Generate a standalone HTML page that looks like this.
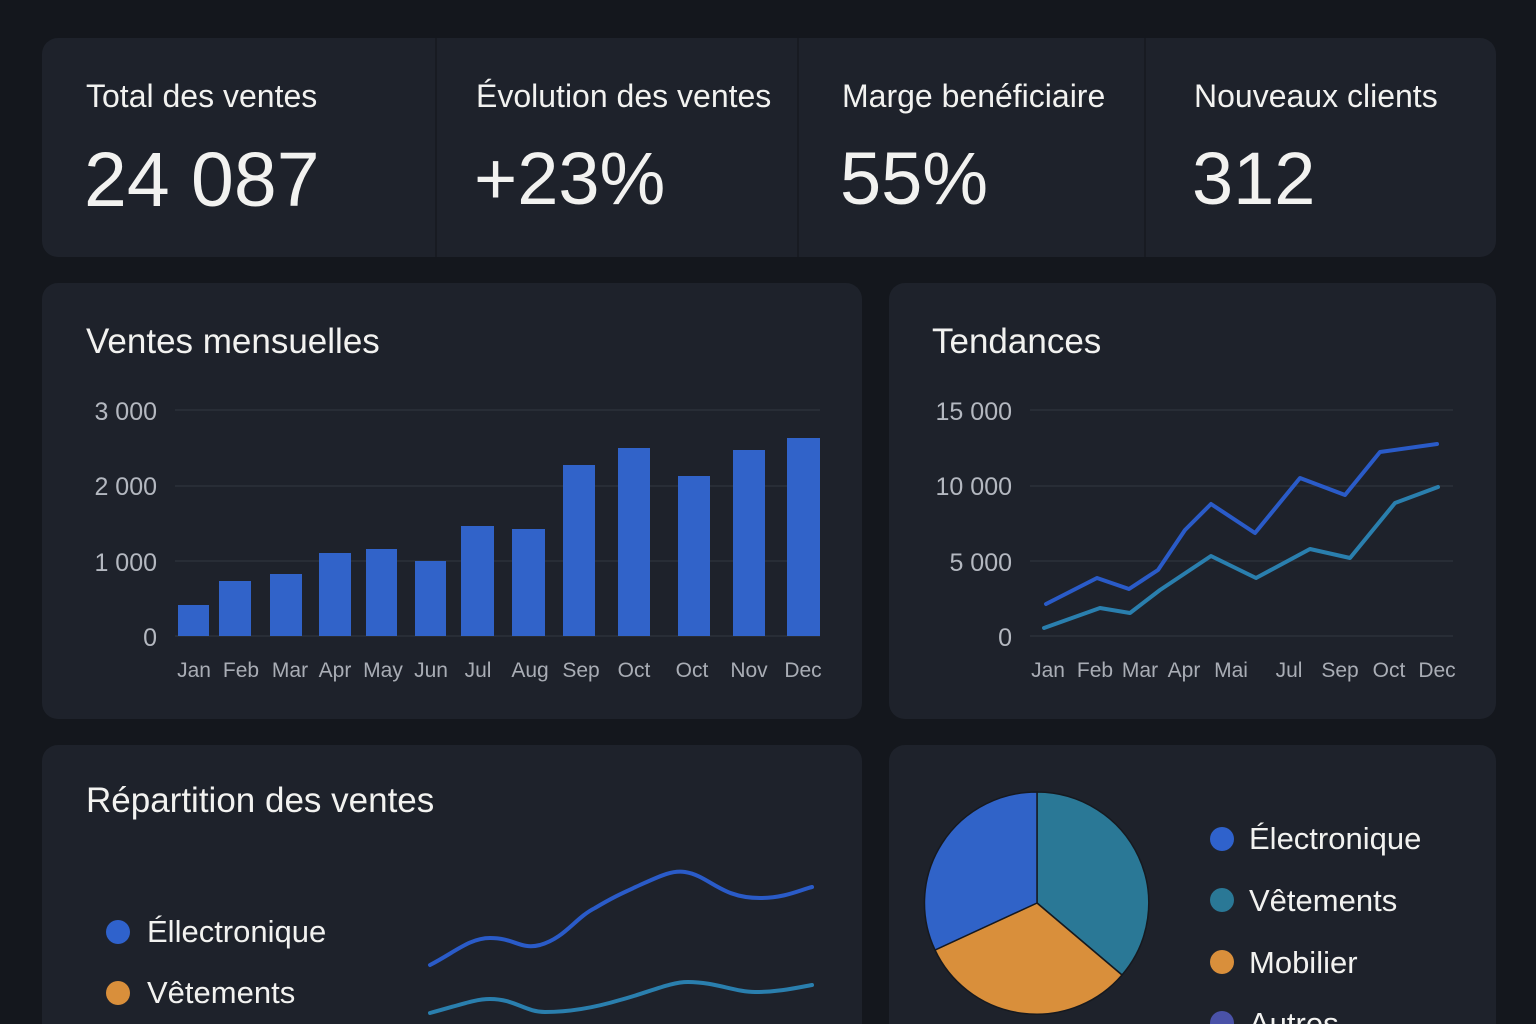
<!DOCTYPE html><html><head><meta charset="utf-8"><style>
html,body{margin:0;width:1536px;height:1024px;overflow:hidden}
body{background:#14171d;font-family:"Liberation Sans",sans-serif;color:#f2f2f0;position:relative}
.c{position:absolute;background:#1e222b;border-radius:16px}
.t{position:absolute;white-space:nowrap}
</style></head><body>
<div class="c" style="left:42px;top:38px;width:1454px;height:219px"></div>
<div style="position:absolute;left:435px;top:38px;width:2px;height:219px;background:#181b22"></div>
<div style="position:absolute;left:797px;top:38px;width:2px;height:219px;background:#181b22"></div>
<div style="position:absolute;left:1144px;top:38px;width:2px;height:219px;background:#181b22"></div>
<div class="t" style="left:86px;top:78px;font-size:32px">Total des ventes</div>
<div class="t" style="left:476px;top:78px;font-size:32px">Évolution des ventes</div>
<div class="t" style="left:842px;top:78px;font-size:32px">Marge benéficiaire</div>
<div class="t" style="left:1194px;top:78px;font-size:32px">Nouveaux clients</div>
<div class="t" style="left:84px;top:136px;font-size:77px">24 087</div>
<div class="t" style="left:474px;top:136px;font-size:74px">+23%</div>
<div class="t" style="left:840px;top:136px;font-size:74px">55%</div>
<div class="t" style="left:1192px;top:136px;font-size:74px">312</div>
<div class="c" style="left:42px;top:283px;width:820px;height:436px"></div>
<div class="c" style="left:889px;top:283px;width:607px;height:436px"></div>
<div class="c" style="left:42px;top:745px;width:820px;height:300px"></div>
<div class="c" style="left:889px;top:745px;width:607px;height:300px"></div>
<div class="t" style="left:86px;top:322px;font-size:35px">Ventes mensuelles</div>
<div class="t" style="left:932px;top:322px;font-size:35px">Tendances</div>
<div class="t" style="left:86px;top:781px;font-size:35px">Répartition des ventes</div>
<svg width="1536" height="1024" style="position:absolute;left:0;top:0" font-family="Liberation Sans,sans-serif">
<g stroke="#2c313b" stroke-width="1.5"><line x1="175" y1="410" x2="820" y2="410"/><line x1="175" y1="486" x2="820" y2="486"/><line x1="175" y1="561" x2="820" y2="561"/><line x1="175" y1="636" x2="820" y2="636"/>
<line x1="1030" y1="410" x2="1453" y2="410"/><line x1="1030" y1="486" x2="1453" y2="486"/><line x1="1030" y1="561" x2="1453" y2="561"/><line x1="1030" y1="636" x2="1453" y2="636"/></g>
<g fill="#b4b8c0" font-size="25" text-anchor="end"><text x="157" y="420">3 000</text><text x="157" y="495">2 000</text><text x="157" y="571">1 000</text><text x="157" y="646">0</text>
<text x="1012" y="420">15 000</text><text x="1012" y="495">10 000</text><text x="1012" y="571">5 000</text><text x="1012" y="646">0</text></g>
<g fill="#3163c9"><rect x="178" y="605" width="31" height="31"/><rect x="219" y="581" width="32" height="55"/><rect x="270" y="574" width="32" height="62"/><rect x="319" y="553" width="32" height="83"/><rect x="366" y="549" width="31" height="87"/><rect x="415" y="561" width="31" height="75"/><rect x="461" y="526" width="33" height="110"/><rect x="512" y="529" width="33" height="107"/><rect x="563" y="465" width="32" height="171"/><rect x="618" y="448" width="32" height="188"/><rect x="678" y="476" width="32" height="160"/><rect x="733" y="450" width="32" height="186"/><rect x="787" y="438" width="33" height="198"/></g>
<g fill="#a9adb5" font-size="21" text-anchor="middle"><text x="194" y="677">Jan</text><text x="241" y="677">Feb</text><text x="290" y="677">Mar</text><text x="335" y="677">Apr</text><text x="383" y="677">May</text><text x="431" y="677">Jun</text><text x="478" y="677">Jul</text><text x="530" y="677">Aug</text><text x="581" y="677">Sep</text><text x="634" y="677">Oct</text><text x="692" y="677">Oct</text><text x="749" y="677">Nov</text><text x="803" y="677">Dec</text>
<text x="1048" y="677">Jan</text><text x="1095" y="677">Feb</text><text x="1140" y="677">Mar</text><text x="1184" y="677">Apr</text><text x="1231" y="677">Mai</text><text x="1289" y="677">Jul</text><text x="1340" y="677">Sep</text><text x="1389" y="677">Oct</text><text x="1437" y="677">Dec</text></g>
<g fill="none" stroke-width="4" stroke-linejoin="round" stroke-linecap="round">
<polyline stroke="#2a5bc8" points="1046,604 1097,578 1129,589 1158,570 1185,530 1211,504 1255,533 1300,478 1345,495 1380,452 1437,444"/>
<polyline stroke="#2a7fae" points="1044,628 1100,608 1130,613 1160,590 1211,556 1256,578 1310,549 1350,558 1395,503 1438,487"/>
<path stroke="#2a5bc8" d="M430,965 C455,952 470,938 490,938 C515,938 520,950 540,945 C565,938 575,918 595,908 C615,896 625,892 640,885 C660,876 672,870 685,872 C710,876 720,898 760,898 C785,898 800,890 812,887"/>
<path stroke="#2a7fae" d="M430,1013 C460,1005 475,999 490,999 C515,999 525,1012 545,1012 C575,1012 600,1006 620,1000 C650,992 670,982 688,982 C715,982 735,992 755,992 C780,992 800,987 812,985"/>
</g>
<circle cx="118" cy="932" r="12" fill="#2f62cc"/><circle cx="118" cy="993" r="12" fill="#d98f3b"/>
<g font-size="31" fill="#f2f2f0"><text x="147" y="942">Éllectronique</text><text x="147" y="1003">Vêtements</text>
<text x="1249" y="849">Électronique</text><text x="1249" y="911">Vêtements</text><text x="1249" y="973">Mobilier</text><text x="1249" y="1034">Autres</text></g>
<circle cx="1222" cy="839" r="12" fill="#2f62cc"/><circle cx="1222" cy="900" r="12" fill="#2a7896"/><circle cx="1222" cy="962" r="12" fill="#d98f3b"/><circle cx="1222" cy="1023" r="12" fill="#4a52a8"/>
<g stroke="#16191f" stroke-width="1.5">
<path d="M1037,903 L1037,792 A112,111 0 0 1 1122,975 Z" fill="#2a7896"/>
<path d="M1037,903 L1122,975 A112,111 0 0 1 935,950 Z" fill="#d98f3b"/>
<path d="M1037,903 L935,950 A112,111 0 0 1 1037,792 Z" fill="#3063c8"/>
</g>
</svg>
</body></html>
